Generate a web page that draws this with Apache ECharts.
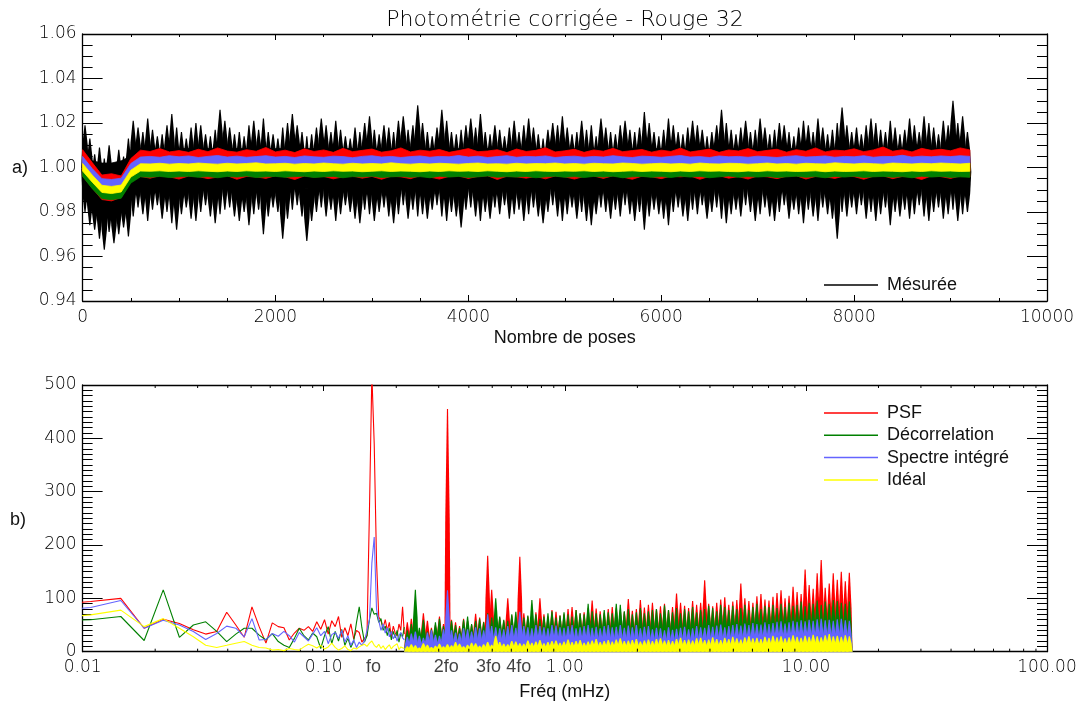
<!DOCTYPE html>
<html>
<head>
<meta charset="utf-8">
<title>Photométrie corrigée - Rouge 32</title>
<script src="https://cdn.jsdelivr.net/npm/echarts@6/dist/echarts.min.js"></script>
<style>
  html, body { margin: 0; padding: 0; background: #fff; }
  #main { width: 1080px; height: 705px; }
</style>
</head>
<body>
<div id="main"></div>
<script>
// ---------- panel a) : photometry against pose number ----------
// black "Mésurée" curve, read as min / max per bin of 50 poses (centres 25, 75, ...)
var needleStep = 50;
var blackHi = [
  1.019, 1.013, 1.006, 1.009, 1.004, 1.010, 1.002, 1.008, 1.005, 1.013,
  1.021, 1.018, 1.016, 1.022, 1.017, 1.014, 1.015, 1.019, 1.024, 1.018,
  1.016, 1.013, 1.018, 1.020, 1.019, 1.015, 1.014, 1.017, 1.026, 1.021,
  1.018, 1.015, 1.016, 1.014, 1.019, 1.021, 1.017, 1.022, 1.016, 1.015,
  1.013, 1.018, 1.020, 1.024, 1.019, 1.016, 1.014, 1.015, 1.018, 1.022,
  1.019, 1.016, 1.021, 1.017, 1.014, 1.013, 1.018, 1.016, 1.020, 1.023,
  1.017, 1.015, 1.019, 1.018, 1.016, 1.021, 1.023, 1.017, 1.019, 1.028,
  1.020, 1.016, 1.014, 1.018, 1.026, 1.021, 1.016, 1.015, 1.017, 1.019,
  1.022, 1.018, 1.024, 1.016, 1.015, 1.019, 1.017, 1.014, 1.018, 1.021,
  1.016, 1.019, 1.022, 1.018, 1.015, 1.013, 1.017, 1.020, 1.019, 1.023,
  1.018, 1.015, 1.016, 1.021, 1.017, 1.019, 1.014, 1.022, 1.018, 1.016,
  1.015, 1.019, 1.021, 1.017, 1.016, 1.018, 1.025, 1.020, 1.016, 1.014,
  1.017, 1.022, 1.019, 1.016, 1.015, 1.018, 1.021, 1.019, 1.017, 1.014,
  1.016, 1.019, 1.026, 1.020, 1.017, 1.015, 1.018, 1.021, 1.016, 1.017,
  1.022, 1.018, 1.015, 1.017, 1.020, 1.019, 1.016, 1.014, 1.018, 1.021,
  1.019, 1.016, 1.022, 1.018, 1.015, 1.017, 1.020, 1.027, 1.019, 1.016,
  1.018, 1.015, 1.019, 1.022, 1.020, 1.017, 1.016, 1.021, 1.018, 1.015,
  1.017, 1.022, 1.019, 1.016, 1.023, 1.020, 1.018, 1.015, 1.021, 1.019,
  1.030, 1.020, 1.023, 1.016
];
var blackLo = [
  0.980, 0.974, 0.972, 0.968, 0.963, 0.971, 0.966, 0.970, 0.973, 0.969,
  0.978, 0.982, 0.979, 0.976, 0.981, 0.983, 0.977, 0.980, 0.975, 0.972,
  0.979, 0.982, 0.977, 0.976, 0.980, 0.983, 0.978, 0.975, 0.979, 0.981,
  0.982, 0.978, 0.976, 0.980, 0.974, 0.979, 0.981, 0.970, 0.978, 0.982,
  0.980, 0.968, 0.977, 0.981, 0.983, 0.978, 0.967, 0.976, 0.980, 0.982,
  0.978, 0.981, 0.976, 0.979, 0.983, 0.980, 0.977, 0.975, 0.981, 0.979,
  0.976, 0.980, 0.982, 0.978, 0.975, 0.979, 0.983, 0.977, 0.981, 0.978,
  0.979, 0.977, 0.981, 0.983, 0.978, 0.976, 0.980, 0.978, 0.973, 0.981,
  0.982, 0.978, 0.976, 0.980, 0.977, 0.982, 0.979, 0.983, 0.977, 0.979,
  0.981, 0.976, 0.979, 0.982, 0.978, 0.975, 0.980, 0.983, 0.978, 0.976,
  0.979, 0.982, 0.977, 0.980, 0.976, 0.974, 0.979, 0.982, 0.980, 0.977,
  0.981, 0.978, 0.983, 0.979, 0.976, 0.980, 0.972, 0.978, 0.981, 0.979,
  0.977, 0.974, 0.980, 0.982, 0.978, 0.976, 0.981, 0.979, 0.983, 0.977,
  0.980, 0.982, 0.977, 0.975, 0.979, 0.981, 0.978, 0.983, 0.980, 0.976,
  0.979, 0.982, 0.978, 0.976, 0.980, 0.983, 0.977, 0.981, 0.979, 0.975,
  0.981, 0.978, 0.976, 0.982, 0.979, 0.977, 0.968, 0.980, 0.978, 0.982,
  0.979, 0.983, 0.977, 0.980, 0.976, 0.979, 0.982, 0.974, 0.980, 0.978,
  0.981, 0.977, 0.979, 0.983, 0.978, 0.976, 0.980, 0.982, 0.977, 0.979,
  0.981, 0.976, 0.979, 0.980
];
// dense part of the black curve
var coreX  = [0, 30, 60, 100, 200, 300, 400, 450, 480, 500, 530, 1000, 2000, 3000, 4000, 5000, 6000, 7000, 8000, 9000, 9190];
var coreHi = [1.011, 1.008, 1.005, 1.003, 1.002, 1.002, 1.003, 1.004, 1.006, 1.008, 1.0085, 1.0085, 1.0085, 1.0085, 1.0085, 1.0085, 1.0085, 1.0085, 1.0085, 1.0085, 1.0085];
var coreLo = [0.990, 0.986, 0.983, 0.980, 0.978, 0.978, 0.980, 0.982, 0.985, 0.988, 0.9905, 0.9905, 0.9905, 0.9905, 0.9905, 0.9905, 0.9905, 0.9905, 0.9905, 0.9905, 0.9905];

// coloured curves, edges every 100 poses (0 .. 9200)
var bandStep = 100;
var redHi = [
  1.0080, 1.0022, 0.9966, 0.9972, 0.9962, 1.0040, 1.0078, 1.0072, 1.0085, 1.0070,
  1.0076, 1.0068, 1.0082, 1.0071, 1.0088, 1.0074, 1.0069, 1.0080, 1.0073, 1.0090,
  1.0070, 1.0078, 1.0067, 1.0084, 1.0072, 1.0079, 1.0068, 1.0086, 1.0071, 1.0077,
  1.0083, 1.0069, 1.0075, 1.0088, 1.0070, 1.0078, 1.0073, 1.0081, 1.0068, 1.0076,
  1.0085, 1.0071, 1.0074, 1.0080, 1.0067, 1.0083, 1.0072, 1.0077, 1.0089, 1.0070,
  1.0075, 1.0082, 1.0068, 1.0079, 1.0073, 1.0086, 1.0071, 1.0076, 1.0081, 1.0069,
  1.0078, 1.0072, 1.0087, 1.0070, 1.0076, 1.0083, 1.0068, 1.0079, 1.0074, 1.0085,
  1.0071, 1.0077, 1.0082, 1.0069, 1.0080, 1.0073, 1.0088, 1.0070, 1.0078, 1.0075,
  1.0084, 1.0071, 1.0079, 1.0092, 1.0073, 1.0080, 1.0070, 1.0086, 1.0077, 1.0082,
  1.0075, 1.0088, 1.0079
];
var redLo = [
  0.9962, 0.9908, 0.9856, 0.9850, 0.9866, 0.9935, 0.9960, 0.9952, 0.9963, 0.9958,
  0.9948, 0.9962, 0.9959, 0.9950, 0.9957, 0.9963, 0.9947, 0.9960, 0.9958, 0.9951,
  0.9963, 0.9958, 0.9946, 0.9962, 0.9957, 0.9960, 0.9949, 0.9958, 0.9962, 0.9952,
  0.9960, 0.9947, 0.9961, 0.9958, 0.9950, 0.9963, 0.9957, 0.9948, 0.9960, 0.9962,
  0.9951, 0.9960, 0.9963, 0.9946, 0.9961, 0.9958, 0.9952, 0.9960, 0.9949, 0.9962,
  0.9958, 0.9948, 0.9960, 0.9962, 0.9951, 0.9963, 0.9957, 0.9947, 0.9961, 0.9958,
  0.9950, 0.9961, 0.9958, 0.9962, 0.9947, 0.9960, 0.9963, 0.9952, 0.9959, 0.9948,
  0.9962, 0.9958, 0.9950, 0.9961, 0.9963, 0.9948, 0.9960, 0.9958, 0.9951, 0.9962,
  0.9959, 0.9947, 0.9961, 0.9963, 0.9950, 0.9960, 0.9958, 0.9946, 0.9962, 0.9959,
  0.9951, 0.9962, 0.9958
];
var greenLo = [
  0.9960, 0.9905, 0.9860, 0.9855, 0.9862, 0.9930, 0.9958, 0.9956, 0.9960, 0.9955,
  0.9958, 0.9961, 0.9956, 0.9959, 0.9954, 0.9960, 0.9957, 0.9962, 0.9955, 0.9958,
  0.9960, 0.9956, 0.9959, 0.9961, 0.9955, 0.9958, 0.9960, 0.9954, 0.9959, 0.9957,
  0.9961, 0.9955, 0.9958, 0.9960, 0.9956, 0.9959, 0.9954, 0.9961, 0.9957, 0.9960,
  0.9955, 0.9958, 0.9962, 0.9956, 0.9959, 0.9957, 0.9960, 0.9954, 0.9958, 0.9961,
  0.9956, 0.9959, 0.9955, 0.9960, 0.9957, 0.9961, 0.9954, 0.9958, 0.9960, 0.9956,
  0.9959, 0.9955, 0.9961, 0.9957, 0.9960, 0.9954, 0.9958, 0.9962, 0.9956, 0.9959,
  0.9957, 0.9960, 0.9955, 0.9958, 0.9961, 0.9956, 0.9959, 0.9954, 0.9960, 0.9957,
  0.9961, 0.9955, 0.9958, 0.9960, 0.9956, 0.9959, 0.9954, 0.9961, 0.9957, 0.9960,
  0.9955, 0.9958, 0.9956
];
var blueHi = [
  1.0050, 0.9995, 0.9950, 0.9946, 0.9952, 1.0018, 1.0047, 1.0050, 1.0046, 1.0053,
  1.0048, 1.0052, 1.0045, 1.0050, 1.0054, 1.0047, 1.0051, 1.0046, 1.0049, 1.0053,
  1.0047, 1.0050, 1.0045, 1.0052, 1.0048, 1.0046, 1.0051, 1.0049, 1.0044, 1.0050,
  1.0053, 1.0047, 1.0050, 1.0045, 1.0049, 1.0052, 1.0046, 1.0050, 1.0048, 1.0054,
  1.0047, 1.0051, 1.0045, 1.0049, 1.0053, 1.0046, 1.0050, 1.0048, 1.0052, 1.0045,
  1.0049, 1.0051, 1.0046, 1.0050, 1.0047, 1.0053, 1.0048, 1.0045, 1.0051, 1.0049,
  1.0046, 1.0050, 1.0054, 1.0047, 1.0049, 1.0045, 1.0052, 1.0048, 1.0050, 1.0046,
  1.0051, 1.0048, 1.0045, 1.0050, 1.0053, 1.0047, 1.0049, 1.0052, 1.0046, 1.0050,
  1.0048, 1.0053, 1.0046, 1.0050, 1.0049, 1.0055, 1.0047, 1.0051, 1.0048, 1.0052,
  1.0049, 1.0053, 1.0050
];
var yellowHi = [
  1.0018, 0.9966, 0.9920, 0.9915, 0.9921, 0.9988, 1.0017, 1.0016, 1.0019, 1.0015,
  1.0018, 1.0016, 1.0020, 1.0017, 1.0015, 1.0019, 1.0016, 1.0018, 1.0021, 1.0016,
  1.0017, 1.0019, 1.0015, 1.0018, 1.0016, 1.0020, 1.0017, 1.0015, 1.0019, 1.0016,
  1.0018, 1.0016, 1.0021, 1.0017, 1.0015, 1.0018, 1.0016, 1.0019, 1.0017, 1.0015,
  1.0018, 1.0020, 1.0016, 1.0017, 1.0015, 1.0019, 1.0016, 1.0018, 1.0017, 1.0020,
  1.0016, 1.0018, 1.0015, 1.0019, 1.0017, 1.0016, 1.0020, 1.0018, 1.0015, 1.0017,
  1.0019, 1.0016, 1.0018, 1.0015, 1.0020, 1.0017, 1.0016, 1.0019, 1.0018, 1.0015,
  1.0017, 1.0020, 1.0016, 1.0018, 1.0015, 1.0019, 1.0017, 1.0016, 1.0021, 1.0018,
  1.0016, 1.0019, 1.0017, 1.0015, 1.0020, 1.0018, 1.0016, 1.0019, 1.0017, 1.0020,
  1.0018, 1.0016, 1.0019
];
var yellowLo = [
  0.9984, 0.9934, 0.9888, 0.9883, 0.9890, 0.9957, 0.9984, 0.9983, 0.9985, 0.9982,
  0.9984, 0.9982, 0.9985, 0.9983, 0.9981, 0.9984, 0.9982, 0.9985, 0.9983, 0.9984,
  0.9982, 0.9985, 0.9983, 0.9981, 0.9984, 0.9982, 0.9985, 0.9983, 0.9984, 0.9981,
  0.9983, 0.9985, 0.9982, 0.9984, 0.9983, 0.9981, 0.9984, 0.9982, 0.9985, 0.9983,
  0.9984, 0.9982, 0.9985, 0.9983, 0.9981, 0.9984, 0.9982, 0.9985, 0.9983, 0.9982,
  0.9984, 0.9983, 0.9985, 0.9982, 0.9984, 0.9981, 0.9983, 0.9985, 0.9982, 0.9984,
  0.9983, 0.9981, 0.9984, 0.9982, 0.9985, 0.9983, 0.9984, 0.9982, 0.9981, 0.9984,
  0.9982, 0.9985, 0.9983, 0.9984, 0.9982, 0.9983, 0.9985, 0.9981, 0.9984, 0.9982,
  0.9983, 0.9985, 0.9982, 0.9984, 0.9983, 0.9981, 0.9984, 0.9982, 0.9985, 0.9983,
  0.9984, 0.9982, 0.9983
];

// ---------- panel b) : power spectra ----------
// first points, one per frequency step: f = k * df, k = 2, 3, ... 60
var df = 0.0036;
var kFirst = 2;
var psfLow = [
  88, 94, 100, 44, 61, 53, 41, 33, 38, 74,
  50, 27, 84, 47, 16, 54, 47, 45, 22, 35,
  44, 40, 47, 38, 56, 42, 60, 33, 58, 47,
  66, 27, 45, 30, 52, 24, 40, 36, 18, 25,
  30, 265, 520, 390, 170, 65, 58, 45, 60, 40,
  55, 28, 48, 35, 30, 52, 40, 84, 33
];
var decLow = [
  57, 60, 66, 21, 116, 27, 50, 56, 38, 19,
  33, 44, 44, 31, 22, 34, 19, 12, 8, 25,
  44, 30, 22, 35, 28, 6, 30, 47, 15, 38,
  20, 42, 12, 25, 8, 20, 55, 84, 45, 18,
  30, 60, 82, 70, 72, 55, 62, 40, 48, 30,
  44, 22, 38, 26, 40, 18, 35, 28, 46
];
var intLow = [
  75, 83, 96, 44, 59, 50, 38, 23, 34, 48,
  44, 28, 62, 22, 23, 34, 29, 38, 30, 18,
  36, 28, 20, 33, 45, 30, 38, 15, 32, 36,
  25, 40, 18, 30, 12, 22, 8, 18, 12, 20,
  40, 60, 166, 215, 80, 58, 40, 52, 35, 45,
  28, 38, 24, 32, 20, 30, 36, 26, 22
];
var idealLow = [
  62, 69, 78, 47, 62, 44, 28, 12, 8, 12,
  16, 19, 12, 8, 7, 3, 4, 2, 6, 4,
  3, 9, 14, 11, 7, 12, 5, 9, 16, 8,
  3, 6, 11, 4, 2, 7, 5, 9, 12, 14,
  10, 16, 20, 12, 8, 14, 6, 11, 4, 9,
  13, 5, 10, 7, 15, 4, 9, 12, 6
];
// dense part: maximum in log bins of 1/60 decade from 0.218 mHz
var binStart = 0.218;
var binsPerDecade = 60;
var psfBins = [
  55, 62, 48, 40, 72, 58, 45, 50, 66, 52, 455,
  60, 55, 48, 62, 58, 50, 71, 64, 56, 180,
  116, 70, 64, 58, 100, 68, 62, 178, 72, 66,
  64, 74, 100, 70, 66, 78, 75, 68, 70, 80,
  84, 78, 72, 74, 82, 96, 81, 76, 73, 80,
  84, 82, 78, 75, 99, 77, 80, 97, 83, 88,
  92, 80, 85, 90, 78, 84, 109, 92, 86, 82,
  95, 88, 92, 134, 90, 85, 92, 98, 102, 88,
  94, 97, 128, 100, 95, 92, 104, 108, 98, 96,
  103, 110, 115, 100, 105, 122, 112, 108, 154,
  125, 118, 147, 172, 120, 128, 147, 135, 150, 132, 148
];
var decBins = [
  40, 52, 116, 45, 60, 38, 42, 55, 62, 48, 70,
  58, 50, 45, 60, 66, 52, 58, 62, 55, 72,
  64, 100, 66, 60, 58, 70, 75, 62, 64, 68,
  97, 70, 62, 66, 72, 76, 64, 68, 74, 70,
  66, 78, 72, 70, 90, 76, 72, 70, 78, 74,
  72, 90, 88, 76, 80, 70, 74, 82, 72, 76,
  78, 80, 72, 87, 78, 74, 82, 72, 80, 76,
  84, 74, 78, 80, 86, 82, 76, 88, 84, 78,
  86, 80, 82, 88, 78, 84, 90, 80, 86, 84,
  88, 82, 90, 84, 92, 86, 88, 94, 85,
  92, 90, 96, 88, 94, 90, 97, 95, 92, 90, 94
];
var intBins = [
  28, 34, 38, 30, 26, 36, 40, 32, 30, 42, 115,
  40, 36, 34, 44, 42, 38, 46, 44, 40, 70,
  48, 46, 44, 42, 48, 50, 45, 75, 48, 46,
  44, 50, 48, 46, 44, 50, 49, 46, 45, 48,
  50, 44, 46, 48, 50, 45, 47, 44, 48, 50,
  46, 47, 50, 45, 49, 46, 50, 44, 47, 48,
  42, 45, 44, 40, 46, 41, 43, 45, 47, 42,
  44, 48, 46, 45, 50, 47, 49, 51, 46, 48,
  50, 52, 49, 53, 50, 54, 52, 51, 55, 52,
  54, 56, 57, 53, 55, 58, 56, 59, 57,
  60, 58, 61, 62, 59, 60, 58, 61, 62, 59, 58
];
var idealBins = [
  10, 14, 12, 8, 16, 13, 9, 11, 15, 10, 14,
  12, 18, 15, 10, 13, 17, 16, 11, 14, 18,
  13, 30, 18, 15, 14, 20, 19, 16, 15, 21,
  17, 19, 22, 16, 18, 20, 21, 17, 19, 23,
  18, 20, 22, 17, 19, 21, 24, 18, 20, 22,
  19, 23, 25, 20, 21, 22, 24, 19, 21, 23,
  20, 24, 25, 21, 22, 20, 24, 26, 22, 23,
  21, 25, 26, 22, 23, 27, 24, 22, 26, 24,
  28, 25, 23, 27, 29, 25, 26, 24, 28, 26,
  30, 27, 29, 25, 27, 31, 28, 26, 30,
  28, 32, 29, 27, 31, 33, 29, 30, 28, 31, 29
];
// harmonics of the orbital frequency
var fo = 0.161;
var harmonics = [1, 2, 3, 4];
var harmonicLabels = ['fo', '2fo', '3fo', '4fo'];
// log axis minor ticks
var decades = [0.01, 0.1, 1, 10];
var minorMult = [2, 3, 4, 5, 6, 7, 8, 9];

// ---------- drawing ----------
var hershey = '"DejaVu Sans"';
var sans = '"Liberation Sans", Arial, sans-serif';
var RED = '#ff0000', GREEN = '#008000', BLUE = '#6464ff', YELLOW = '#ffff00';

var chart = echarts.init(document.getElementById('main'));

// one spike glyph: wide body near its base, thin needle at its tip
// base, tip: pixel points on the same vertical; w: half width at the base
function spikePoints(base, tip, w) {
  var k = 0.55;
  var ky = base[1] + (tip[1] - base[1]) * k;
  return [[tip[0] - 0.55, tip[1]], [tip[0] + 0.55, tip[1]], [base[0] + w * 0.7, ky], [base[0] + w, base[1]],
          [base[0] - w, base[1]], [base[0] - w * 0.7, ky]];
}

function bandSeries(name, xs, lo, hi, color) {
  return {
    type: 'custom', name: name, xAxisIndex: 0, yAxisIndex: 0, silent: true,
    itemStyle: { color: color },
    data: xs.map(function (x, i) { return [x, lo[i], hi[i]]; }),
    encode: { x: 0, y: [1, 2] },
    renderItem: function (params, api) {
      if (params.dataIndex !== 0) return null;
      var pts = [];
      for (var i = 0; i < xs.length; i++) pts.push(api.coord([xs[i], hi[i]]));
      for (var j = xs.length - 1; j >= 0; j--) pts.push(api.coord([xs[j], lo[j]]));
      return { type: 'polygon', shape: { points: pts }, style: { fill: color, stroke: color, lineWidth: 0.8 } };
    }
  };
}

function lowLine(name, vals, color) {
  return {
    type: 'line', name: name, xAxisIndex: 2, yAxisIndex: 2, silent: true,
    showSymbol: false, symbol: 'none', clip: true,
    lineStyle: { color: color, width: 1.1 },
    itemStyle: { color: color },
    data: vals.map(function (v, i) { return [(kFirst + i) * df, v]; })
  };
}

// each bin drawn as a spike rising from zero
function binSeries(name, vals, color) {
  return {
    type: 'custom', name: name, xAxisIndex: 2, yAxisIndex: 2, silent: true,
    itemStyle: { color: color },
    data: vals.map(function (v, i) {
      var f0 = binStart * Math.pow(10, i / binsPerDecade);
      var f1 = binStart * Math.pow(10, (i + 1) / binsPerDecade);
      return [Math.sqrt(f0 * f1), v, f0, f1];
    }),
    encode: { x: 0, y: 1 },
    renderItem: function (params, api) {
      var p0 = api.coord([api.value(2), 0]);
      var p1 = api.coord([api.value(3), 0]);
      var base = api.coord([api.value(0), 0]);
      var tip = api.coord([api.value(0), api.value(1)]);
      tip[1] = Math.max(tip[1], params.coordSys.y);
      var w = (p1[0] - p0[0]) * 0.8;
      return { type: 'polygon', shape: { points: spikePoints(base, tip, w) }, style: { fill: color } };
    }
  };
}

var bandX = redHi.map(function (v, i) { return i * bandStep; });

var minorFreqs = [];
decades.forEach(function (d) { minorMult.forEach(function (m) { minorFreqs.push(d * m); }); });

var axisLine = { show: true, onZero: false, lineStyle: { color: '#000', width: 1.3 } };
var tickStyle = { color: '#000', width: 1 };
var labelStyle = { fontFamily: hershey, fontWeight: 200, fontSize: 17, color: '#000' };
var nameStyle = { fontFamily: sans, fontSize: 18, color: '#111' };

function xValue(grid, pos, labels) {
  return {
    gridIndex: grid, type: 'value', min: 0, max: 10000, interval: 2000, position: pos,
    axisLine: axisLine, splitLine: { show: false },
    axisTick: { show: true, inside: true, length: 6, lineStyle: tickStyle },
    minorTick: { show: true, splitNumber: 4, length: 3, lineStyle: tickStyle },
    axisLabel: labels ? Object.assign({ show: true, margin: 8, showMinLabel: true, showMaxLabel: true,
      formatter: function (v) { return String(v); } }, labelStyle) : { show: false },
    name: labels ? 'Nombre de poses' : '', nameLocation: 'middle', nameGap: 28, nameTextStyle: nameStyle
  };
}
function xLog(grid, pos, labels) {
  return {
    gridIndex: grid, type: 'log', logBase: 10, min: 0.01, max: 100, position: pos,
    axisLine: axisLine, splitLine: { show: false },
    axisTick: { show: true, inside: true, length: 6, lineStyle: tickStyle },
    minorTick: { show: false },
    axisLabel: labels ? Object.assign({
      show: true, margin: 7, showMinLabel: true, showMaxLabel: true,
      formatter: function (v) { return v.toFixed(2); }
    }, labelStyle) : { show: false },
    name: labels ? 'Fréq (mHz)' : '', nameLocation: 'middle', nameGap: 31, nameTextStyle: nameStyle
  };
}
function yAxisDef(grid, pos, min, max, interval, minorSplit, labels, fmt) {
  return {
    gridIndex: grid, type: 'value', min: min, max: max, interval: interval, position: pos,
    axisLine: axisLine, splitLine: { show: false },
    axisTick: { show: true, inside: true, length: 20, lineStyle: tickStyle },
    minorTick: { show: true, splitNumber: minorSplit, length: 10, lineStyle: tickStyle },
    axisLabel: labels ? Object.assign({ show: true, margin: 6, formatter: fmt, showMinLabel: true, showMaxLabel: true }, labelStyle) : { show: false }
  };
}

var legendText = { fontFamily: sans, fontSize: 18, color: '#111', lineHeight: 20, padding: [0, 0, 0, 4] };

var option = {
  animation: false,
  backgroundColor: '#fff',
  grid: [
    { left: 82.6, top: 34, width: 964.4, height: 267, containLabel: false, outerBoundsMode: 'none' },
    { left: 82.6, top: 385, width: 964.4, height: 266.7, containLabel: false, outerBoundsMode: 'none' }
  ],
  xAxis: [xValue(0, 'bottom', true), xValue(0, 'top', false), xLog(1, 'bottom', true), xLog(1, 'top', false)],
  yAxis: [
    yAxisDef(0, 'left', 0.94, 1.06, 0.02, 4, true, function (v) { return v.toFixed(2); }),
    yAxisDef(0, 'right', 0.94, 1.06, 0.02, 4, false),
    yAxisDef(1, 'left', 0, 500, 100, 10, true, function (v) { return String(v); }),
    yAxisDef(1, 'right', 0, 500, 100, 10, false)
  ],
  legend: [
    { data: ['Mésurée'], left: 824, top: 275, padding: 0, orient: 'vertical', icon: 'rect',
      itemWidth: 54, itemHeight: 1.5, selectedMode: false, textStyle: legendText },
    { data: ['PSF', 'Décorrelation', 'Spectre intégré', 'Idéal'], left: 824, top: 403, padding: 0,
      orient: 'vertical', icon: 'rect', itemWidth: 54, itemHeight: 1.5, itemGap: 2.3,
      selectedMode: false, textStyle: legendText }
  ],
  graphic: [
    { type: 'text', x: 565, y: 20, silent: true,
      style: { text: 'Photométrie corrigée - Rouge 32', font: '200 22px "DejaVu Sans"', fill: '#000',
               align: 'center', verticalAlign: 'middle', textAlign: 'center', textVerticalAlign: 'middle' } },
    { type: 'text', x: 20, y: 168, silent: true,
      style: { text: 'a)', font: '18px "Liberation Sans"', fill: '#111',
               align: 'center', verticalAlign: 'middle', textAlign: 'center', textVerticalAlign: 'middle' } },
    { type: 'text', x: 18, y: 520, silent: true,
      style: { text: 'b)', font: '18px "Liberation Sans"', fill: '#111',
               align: 'center', verticalAlign: 'middle', textAlign: 'center', textVerticalAlign: 'middle' } }
  ],
  series: [
    bandSeries('core', coreX, coreLo, coreHi, '#000'),
    {
      // each 50-pose bin drawn as two spikes (up to max, down to min) from the bin middle
      type: 'custom', name: 'Mésurée', xAxisIndex: 0, yAxisIndex: 0, silent: true,
      itemStyle: { color: '#000' },
      data: blackHi.map(function (h, i) { return [needleStep * i + needleStep / 2, blackLo[i], h]; }),
      encode: { x: 0, y: [1, 2] },
      renderItem: function (params, api) {
        var x = api.value(0), lo = api.value(1), hi = api.value(2);
        var m = api.coord([x, (lo + hi) / 2]);
        var w = api.size([needleStep, 0])[0] * 0.8;
        return { type: 'group', children: [
          { type: 'polygon', shape: { points: spikePoints(m, api.coord([x, hi]), w) }, style: { fill: '#000' } },
          { type: 'polygon', shape: { points: spikePoints(m, api.coord([x, lo]), w) }, style: { fill: '#000' } }
        ] };
      }
    },
    bandSeries('redBand', bandX, redLo, redHi, RED),
    bandSeries('greenBand', bandX, greenLo, yellowLo, GREEN),
    bandSeries('blueBand', bandX, yellowHi, blueHi, BLUE),
    bandSeries('yellowBand', bandX, yellowLo, yellowHi, YELLOW),

    lowLine('PSF', psfLow, RED),
    binSeries('PSF', psfBins, RED),
    lowLine('Décorrelation', decLow, GREEN),
    binSeries('Décorrelation', decBins, GREEN),
    lowLine('Spectre intégré', intLow, BLUE),
    binSeries('Spectre intégré', intBins, BLUE),
    lowLine('Idéal', idealLow, YELLOW),
    binSeries('Idéal', idealBins, YELLOW),
    {
      type: 'custom', name: 'minorTicks', xAxisIndex: 2, yAxisIndex: 2, silent: true,
      data: minorFreqs.map(function (f) { return [f, 0]; }),
      encode: { x: 0, y: 1 },
      renderItem: function (params, api) {
        var p = api.coord([api.value(0), 0]);
        var cs = params.coordSys;
        var s = { stroke: '#000', lineWidth: 1 };
        return { type: 'group', children: [
          { type: 'line', shape: { x1: p[0], y1: cs.y + cs.height, x2: p[0], y2: cs.y + cs.height - 3 }, style: s },
          { type: 'line', shape: { x1: p[0], y1: cs.y, x2: p[0], y2: cs.y + 3 }, style: s }
        ] };
      }
    },
    {
      type: 'scatter', name: 'harmonics', xAxisIndex: 2, yAxisIndex: 2, silent: true, clip: false,
      symbolSize: 0,
      data: harmonics.map(function (n) { return [n * fo, 0]; }),
      label: {
        show: true, position: 'bottom', distance: 6,
        fontFamily: sans, fontSize: 18, color: '#111',
        formatter: function (p) { return harmonicLabels[p.dataIndex]; }
      }
    }
  ]
};

chart.setOption(option);
</script>
</body>
</html>
